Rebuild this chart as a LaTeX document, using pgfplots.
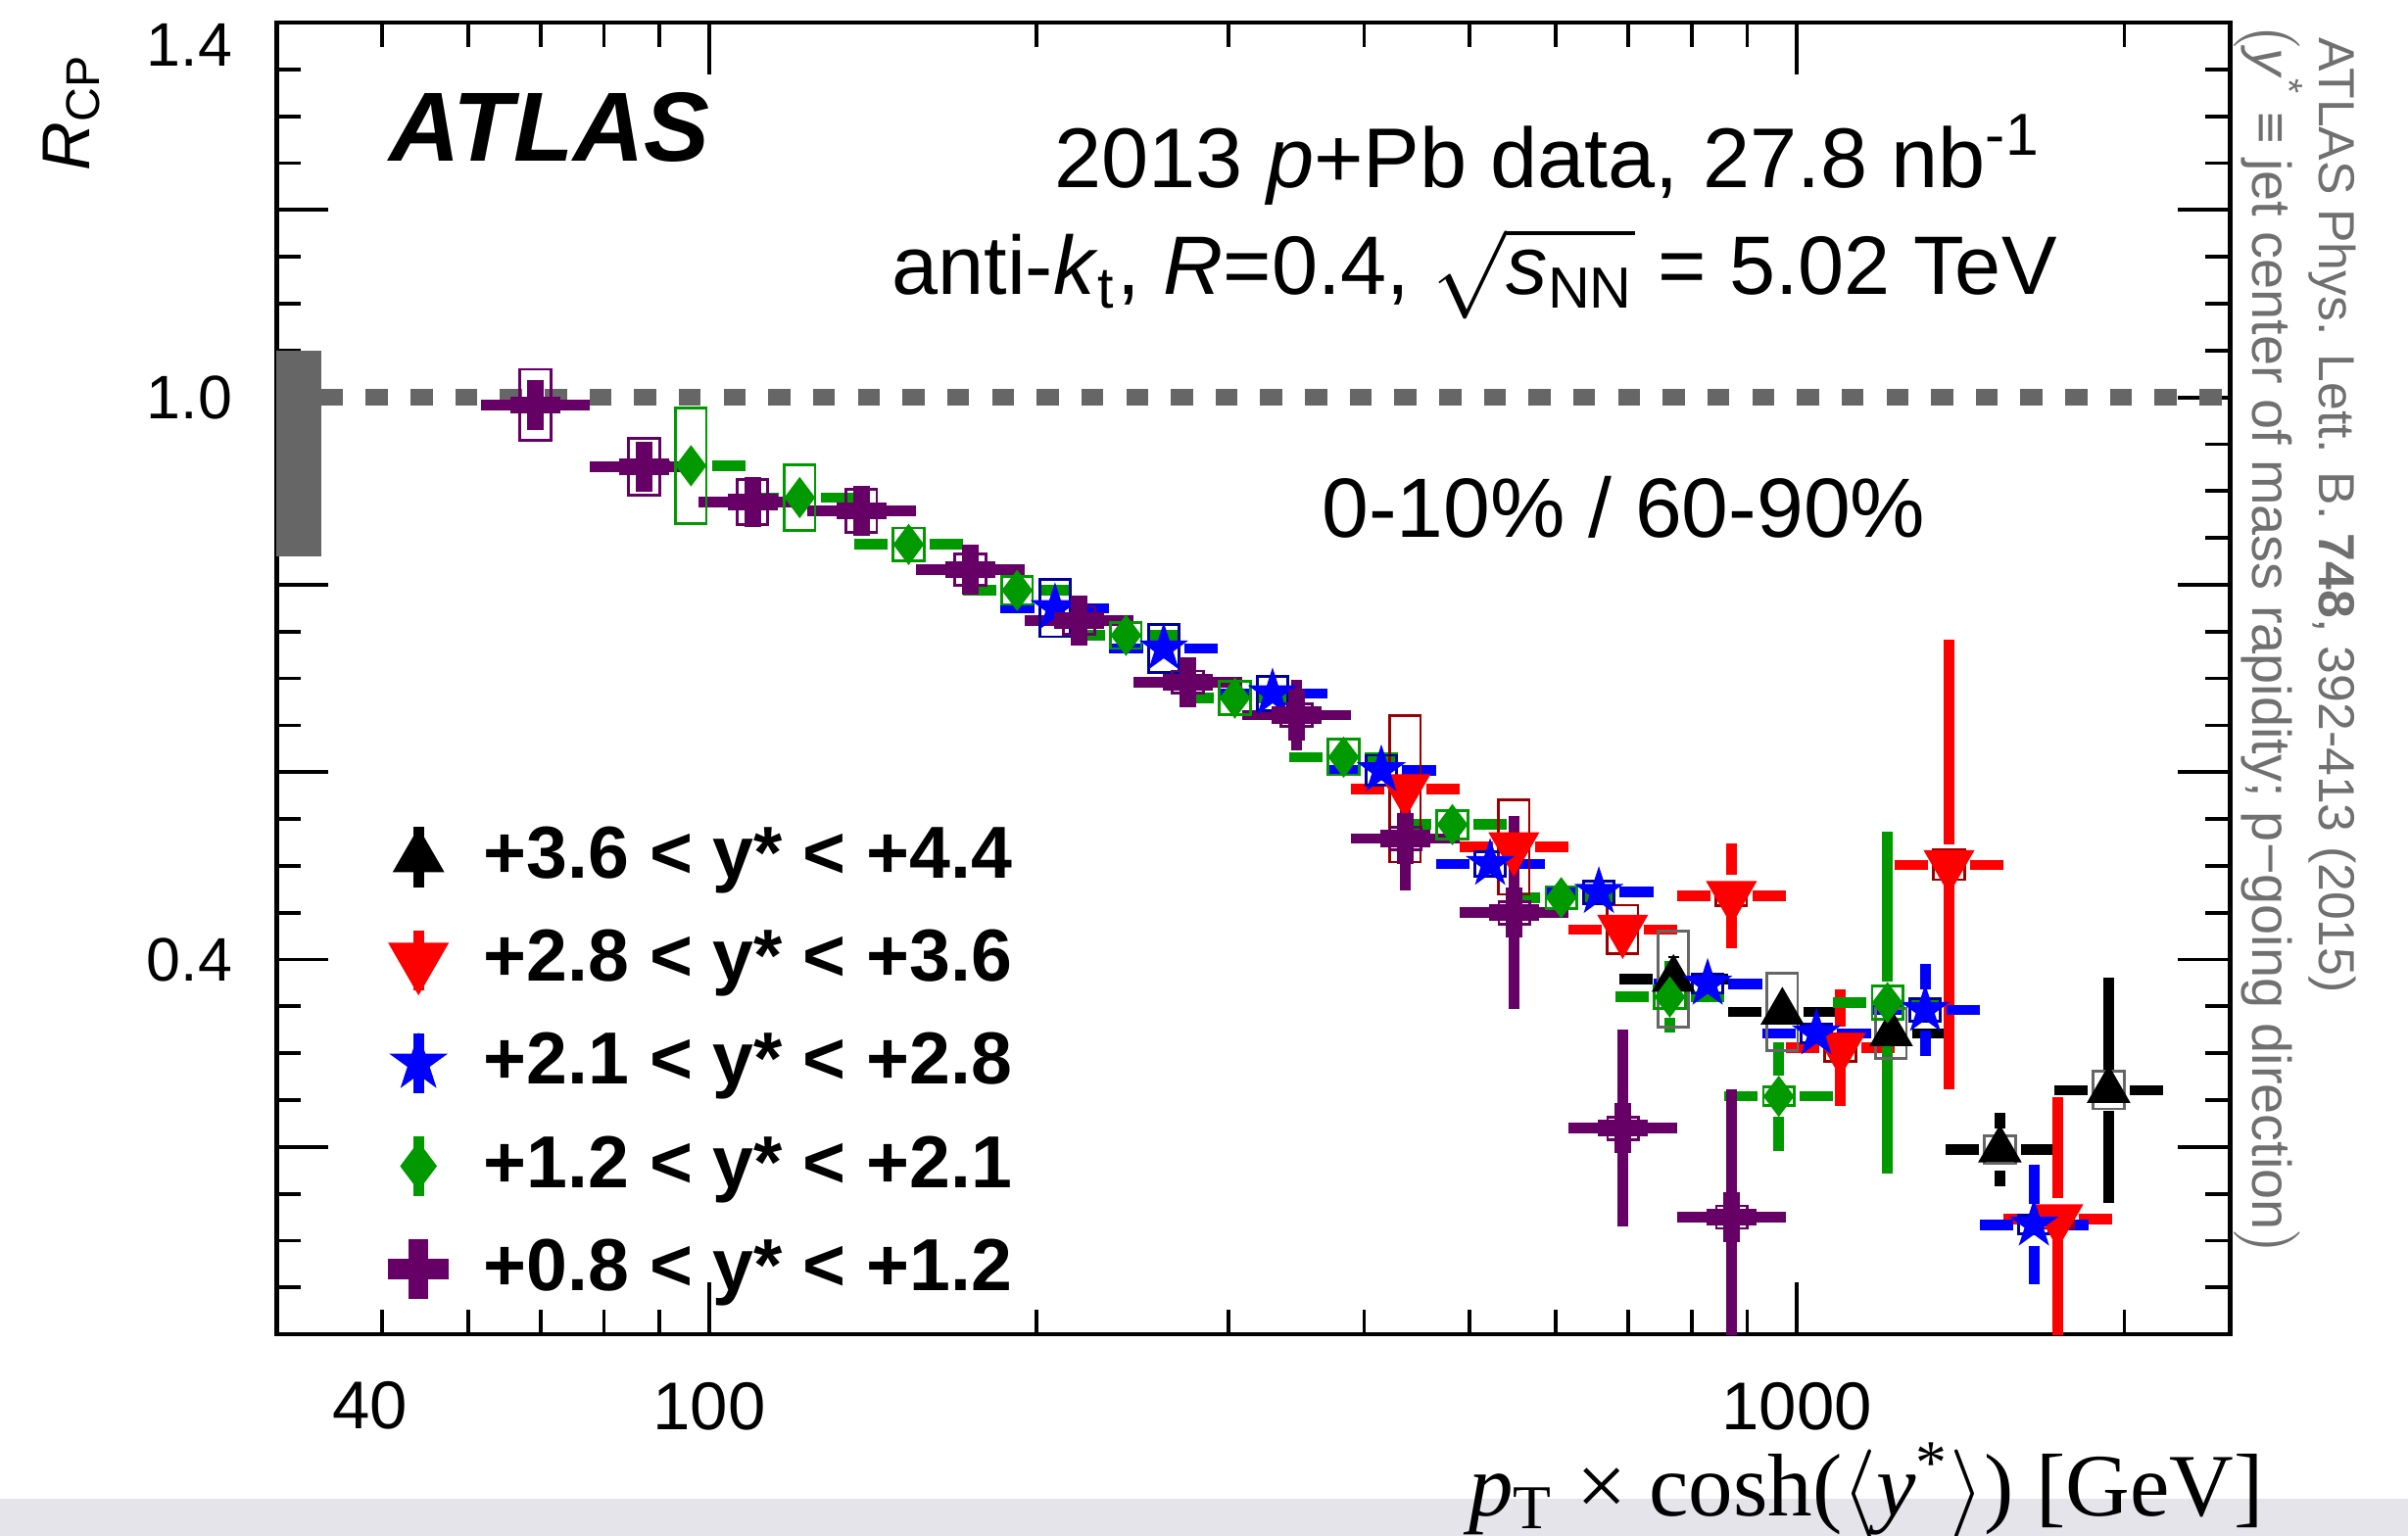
\documentclass[border=0pt]{standalone}
\usepackage{fontspec}
\setmainfont{Liberation Sans}
\newfontfamily\seriffont{Liberation Serif}
\usepackage{amsmath}
\usepackage{pgfplots}
\usepackage{pgfplotstable}
\pgfplotsset{compat=1.18}
\usetikzlibrary{plotmarks}

\definecolor{cpur}{RGB}{102,0,102}
\definecolor{cgrn}{RGB}{0,153,0}
\definecolor{cblu}{RGB}{0,0,255}
\definecolor{cblubox}{RGB}{0,0,153}
\definecolor{cred}{RGB}{255,0,0}
\definecolor{credbox}{RGB}{153,0,0}
\definecolor{cgry}{RGB}{102,102,102}
\definecolor{ctxt}{RGB}{112,112,112}
\definecolor{cband}{RGB}{228,228,234}

\newdimen\boxh

\pgfdeclareplotmark{nothing}{}
\pgfdeclareplotmark{thickcross}{%
  \pgfpathmoveto{\pgfqpoint{0.32\pgfplotmarksize}{\pgfplotmarksize}}%
  \pgfpathlineto{\pgfqpoint{0.32\pgfplotmarksize}{0.32\pgfplotmarksize}}%
  \pgfpathlineto{\pgfqpoint{\pgfplotmarksize}{0.32\pgfplotmarksize}}%
  \pgfpathlineto{\pgfqpoint{\pgfplotmarksize}{-0.32\pgfplotmarksize}}%
  \pgfpathlineto{\pgfqpoint{0.32\pgfplotmarksize}{-0.32\pgfplotmarksize}}%
  \pgfpathlineto{\pgfqpoint{0.32\pgfplotmarksize}{-\pgfplotmarksize}}%
  \pgfpathlineto{\pgfqpoint{-0.32\pgfplotmarksize}{-\pgfplotmarksize}}%
  \pgfpathlineto{\pgfqpoint{-0.32\pgfplotmarksize}{-0.32\pgfplotmarksize}}%
  \pgfpathlineto{\pgfqpoint{-\pgfplotmarksize}{-0.32\pgfplotmarksize}}%
  \pgfpathlineto{\pgfqpoint{-\pgfplotmarksize}{0.32\pgfplotmarksize}}%
  \pgfpathlineto{\pgfqpoint{-0.32\pgfplotmarksize}{0.32\pgfplotmarksize}}%
  \pgfpathlineto{\pgfqpoint{-0.32\pgfplotmarksize}{\pgfplotmarksize}}%
  \pgfpathclose
  \pgfusepathqfillstroke
}
\pgfdeclareplotmark{fstar}{%
  \pgfpathmoveto{\pgfqpointpolar{90}{\pgfplotmarksize}}%
  \pgfpathlineto{\pgfqpointpolar{126}{0.382\pgfplotmarksize}}%
  \pgfpathlineto{\pgfqpointpolar{162}{\pgfplotmarksize}}%
  \pgfpathlineto{\pgfqpointpolar{198}{0.382\pgfplotmarksize}}%
  \pgfpathlineto{\pgfqpointpolar{234}{\pgfplotmarksize}}%
  \pgfpathlineto{\pgfqpointpolar{270}{0.382\pgfplotmarksize}}%
  \pgfpathlineto{\pgfqpointpolar{306}{\pgfplotmarksize}}%
  \pgfpathlineto{\pgfqpointpolar{342}{0.382\pgfplotmarksize}}%
  \pgfpathlineto{\pgfqpointpolar{18}{\pgfplotmarksize}}%
  \pgfpathlineto{\pgfqpointpolar{54}{0.382\pgfplotmarksize}}%
  \pgfpathclose
  \pgfusepathqfillstroke
}

% x  y  stat  sys   (bins are 0.1 wide in log10 x)
\pgfplotstableread{
x      y      stat   sys
770.0  0.379  0.025  0.051
969.4  0.344  0.015  0.041
1220.4 0.321  0.015  0.027
1536.4 0.197  0.039  0.015
1934.2 0.2605 0.120  0.020
}\tblk
\pgfplotstableread{
x      y      stat   sys
436.2  0.582  0.015  0.078
549.2  0.520  0.015  0.0505
691.4  0.432  0.015  0.026
870.4  0.468  0.056  0.0105
1095.8 0.306  0.062  0.015
1379.5 0.501  0.240  0.0157
1736.7 0.123  0.130  0.010
}\tblr
\pgfplotstableread{
x      y      stat   sys
207.9  0.775  0.010  0.0305
261.7  0.732  0.010  0.0253
329.5  0.684  0.012  0.018
414.8  0.602  0.012  0.016
522.2  0.502  0.012  0.013
657.4  0.472  0.012  0.012
827.6  0.374  0.015  0.010
1041.9 0.321  0.015  0.010
1311.7 0.346  0.049  0.012
1651.3 0.117  0.064  0.010
}\tblb
\pgfplotstableread{
x      y      stat   sys
96.2   0.927  0.012  0.062
121.1  0.893  0.012  0.035
152.5  0.843  0.012  0.0175
191.9  0.794  0.012  0.015
241.6  0.746  0.012  0.014
304.2  0.679  0.012  0.018
383.0  0.616  0.012  0.019
482.1  0.544  0.015  0.015
607.0  0.466  0.020  0.012
764.0  0.360  0.038  0.012
962.0  0.254  0.058  0.010
1211.0 0.354  0.182  0.0175
}\tblg
\pgfplotstableread{
x      y      stat   sys
69.2   0.992  0.010  0.038
87.1   0.926  0.010  0.030
109.6  0.888  0.010  0.024
138.0  0.879  0.010  0.023
173.8  0.816  0.012  0.017
218.8  0.762  0.012  0.015
275.4  0.696  0.012  0.012
346.7  0.661  0.038  0.012
436.5  0.529  0.055  0.012
549.5  0.450  0.103  0.012
691.8  0.220  0.105  0.012
871.0  0.125  0.136  0.012
}\tblp

\pgfplotsset{
  % open box of half height sys (1 unit of R_CP = 153.108pt in this axis)
  sysbox/.style={only marks, scatter, mark=nothing, forget plot,
    visualization depends on={\thisrow{sys}\as\sys},
    scatter/@pre marker code/.code={%
      \pgfmathsetlength{\boxh}{\sys*153.108}%
      \begin{pgfscope}
      \pgfsetstrokecolor{#1}\pgfsetlinewidth{0.45bp}%
      \pgfpathrectanglecorners{\pgfqpoint{-2.5bp}{-\boxh}}{\pgfqpoint{2.5bp}{\boxh}}%
      \pgfusepath{stroke}%
      \end{pgfscope}},
    scatter/@post marker code/.code={}},
  % error bars are drawn outward from the point: leave a gap round the marker
  gap/.style={dash pattern=on 0bp off 3.4bp on 300bp off 0bp},
  % horizontal bars (bin width)
  xbars/.style 2 args={only marks, mark=nothing, forget plot, color=#1,
    error bars/.cd, x dir=both, x explicit, error mark=none,
    error bar style={line width=1.7bp, #2}},
  legimg/.style={legend image code/.code={%
      \draw[##1, line width=1.7bp] (0bp,-4.9bp) -- (0bp,4.9bp);
      \draw[##1, every mark/.append style={scale=1.2}] plot coordinates {(0bp,0bp)};
      \path (-4.6bp,-6bp) (8.4bp,6bp);}},
  % markers with statistical (vertical) bars
  series/.style n args={5}{only marks, color=#1, mark=#2, mark size=#3,
    mark options={solid, fill=#1, draw=#1, line width=0.2bp, #4}, legimg,
    error bars/.cd, y dir=both, y explicit,
    error mark=none, error bar style={line width=1.7bp, #5}},
}

\begin{document}
\begin{tikzpicture}
\useasboundingbox (-45bp,-32.775bp) rectangle (347bp,217.225bp);
\begin{scope}[x=0.25bp,y=-0.25bp,shift={(-45bp,217.225bp)}]
  \fill[cband] (0,976) rectangle (1568,1000);
\end{scope}

\begin{axis}[
  at={(0,0)}, anchor=south west,
  scale only axis, width=318bp, height=213.55bp,
  xmode=log, xmin=40, xmax=2500, ymin=0, ymax=1.4,
  axis line style={line width=0.75bp},
  every tick/.append style={black, line width=0.6bp},
  major tick length=8.5bp, minor tick length=4bp,
  xtick={100,1000}, xticklabels={100,1000},
  minor xtick={50,60,70,80,90,200,300,400,500,600,700,800,900,2000},
  ytick={0,0.2,0.4,0.6,0.8,1,1.2,1.4}, yticklabels={,,0.4,,,1.0,,},
  minor y tick num=3,
  xticklabel style={font=\fontsize{11bp}{13bp}\selectfont, inner sep=0pt, anchor=north, yshift=-7.6bp},
  yticklabel style={font=\fontsize{10bp}{12bp}\selectfont, inner sep=0pt, anchor=east, xshift=-7bp},
  legend style={at={(rel axis cs:0.057,0.397)}, anchor=north west, draw=none, fill=none,
    inner sep=0pt, row sep=2.9bp, font=\fontsize{12bp}{14bp}\selectfont\bfseries},
  legend cell align=left,
]
% normalisation uncertainty and unity line
\addplot[draw=none, fill=cgry, forget plot] coordinates {(40,0.83) (44,0.83) (44,1.05) (40,1.05)};
\addplot[cgry, line width=2.65bp, dash pattern=on 3.58bp off 3.7bp, forget plot] coordinates {(40,1) (2500,1)};

% systematic boxes
\addplot[sysbox=cgry] table[x=x,y=y] {\tblk};
\addplot[sysbox=credbox] table[x=x,y=y] {\tblr};
\addplot[sysbox=cblubox] table[x=x,y=y] {\tblb};
\addplot[sysbox=cgrn] table[x=x,y=y] {\tblg};
\addplot[sysbox=cpur] table[x=x,y=y] {\tblp};

% points: bin widths, then statistical errors and markers
\addplot[xbars={black}{gap}]
  table[x=x, y=y, x error plus expr=0.122*\thisrow{x}, x error minus expr=0.1087*\thisrow{x}] {\tblk};
\addplot[series={black}{triangle*}{3.9bp}{}{gap}] table[x=x, y=y, y error=stat] {\tblk};
\addlegendentry{+3.6 < y* < +4.4}

\addplot[xbars={cred}{gap}]
  table[x=x, y=y, x error plus expr=0.122*\thisrow{x}, x error minus expr=0.1087*\thisrow{x}] {\tblr};
\addplot[series={cred}{triangle*}{4.6bp}{rotate=180}{gap}] table[x=x, y=y, y error=stat] {\tblr};
\addlegendentry{+2.8 < y* < +3.6}

\addplot[xbars={cblu}{gap}]
  table[x=x, y=y, x error plus expr=0.122*\thisrow{x}, x error minus expr=0.1087*\thisrow{x}] {\tblb};
\addplot[series={cblu}{fstar}{3.9bp}{}{gap}] table[x=x, y=y, y error=stat] {\tblb};
\addlegendentry{+2.1 < y* < +2.8}

\addplot[xbars={cgrn}{gap}]
  table[x=x, y=y, x error plus expr=0.122*\thisrow{x}, x error minus expr=0.1087*\thisrow{x}] {\tblg};
\addplot[series={cgrn}{diamond*}{3.2bp}{}{gap}] table[x=x, y=y, y error=stat] {\tblg};
\addlegendentry{+1.2 < y* < +2.1}

\addplot[xbars={cpur}{solid}]
  table[x=x, y=y, x error plus expr=0.122*\thisrow{x}, x error minus expr=0.1087*\thisrow{x}] {\tblp};
\addplot[series={cpur}{thickcross}{4bp}{}{solid}] table[x=x, y=y, y error=stat] {\tblp};
\addlegendentry{+0.8 < y* < +1.2}
\end{axis}

\begin{scope}[x=0.25bp,y=-0.25bp,shift={(-45bp,217.225bp)}, every node/.style={inner sep=0pt}]
  \node[anchor=base west, font=\fontsize{16bp}{19bp}\selectfont\bfseries\itshape] at (253,105) {ATLAS};
  \node[anchor=base west, font=\fontsize{13.8bp}{16bp}\selectfont] at (686,122)
    {2013 \textit{p}+Pb data, 27.8 nb\textsuperscript{-1}};
  \node[anchor=base west, font=\fontsize{13.5bp}{16bp}\selectfont] at (580,192)
    {anti-\textit{k}\textsubscript{t}, \textit{R}=0.4, $\sqrt{\textit{s}_{\text{NN}}}$ = 5.02 TeV};
  \node[anchor=base west, font=\fontsize{13.7bp}{16bp}\selectfont] at (860,350) {0-10\% / 60-90\%};
  \node[rotate=90, anchor=base west, font=\fontsize{11bp}{13bp}\selectfont] at (58.5,112) {\textit{R}\textsubscript{CP}};
  \node[anchor=east, font=\fontsize{10bp}{12bp}\selectfont] at (152,29.5) {1.4};
  \node[font=\fontsize{11bp}{13bp}\selectfont] at (241,915.5) {40};
  \node[anchor=base east, font=\seriffont\fontsize{14.5bp}{16bp}\selectfont] at (1475,987)
    {\textit{p}\textsubscript{T} × cosh($\langle$\textit{y}\textsuperscript{*}$\rangle$) [GeV]};
  \node[rotate=-90, anchor=base west, text=ctxt, font=\fontsize{8.25bp}{10bp}\selectfont] at (1510,24)
    {ATLAS Phys. Lett. B. \textbf{748}, 392-413 (2015)};
  \node[rotate=-90, anchor=base west, text=ctxt, font=\fontsize{8.9bp}{10bp}\selectfont] at (1467,14)
    {$\bigl($\textit{y}\textsuperscript{*} ≡ jet center of mass rapidity; p−going direction$\bigr)$};
\end{scope}
\end{tikzpicture}
\end{document}
